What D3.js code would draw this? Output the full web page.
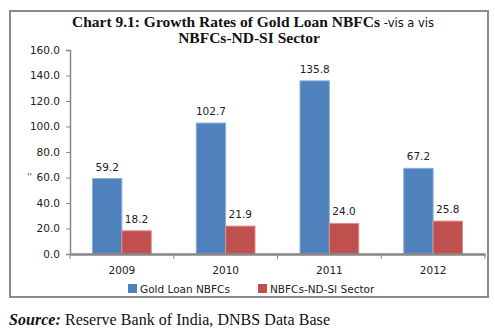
<!DOCTYPE html>
<html>
<head>
<meta charset="utf-8">
<script src="https://cdn.jsdelivr.net/npm/d3@7"></script>
<style>
  body { margin: 0; background: #fff; }
  svg { display: block; }
</style>
</head>
<body>
<svg id="chart" width="495" height="335"></svg>
<script>
const years = ["2009", "2010", "2011", "2012"];
const seriesNames = ["Gold Loan NBFCs", "NBFCs-ND-SI Sector"];
const goldLoan = [59.2, 102.7, 135.8, 67.2];
const ndsi = [18.2, 21.9, 24.0, 25.8];
const yTicks = [0, 20, 40, 60, 80, 100, 120, 140, 160];

const COLORS = ["#4F81BD", "#C0504D"];
const EDGES = ["#8db0dc", "#e08c8a"];
const AXIS = "#868686";
const SANS = "'DejaVu Sans', Verdana, sans-serif";
const SERIF = "'Liberation Serif', 'Times New Roman', serif";

const svg = d3.select("#chart");

// outer frame
svg.append("rect")
  .attr("x", 10).attr("y", 11)
  .attr("width", 478).attr("height", 286)
  .attr("fill", "none")
  .attr("stroke", "#8a8a8a")
  .attr("stroke-width", 2);

// title, two lines
const title1 = svg.append("text")
  .attr("x", 253).attr("y", 27)
  .attr("text-anchor", "middle")
  .attr("font-family", SERIF)
  .attr("font-weight", "bold")
  .attr("font-size", 15.5)
  .attr("fill", "#111")
  .text("Chart 9.1: Growth Rates of Gold Loan NBFCs ");
title1.append("tspan").attr("font-family", SANS).attr("font-weight", "normal")
  .attr("font-size", 11.5).text("-vis a vis");
svg.append("text")
  .attr("x", 249).attr("y", 43)
  .attr("text-anchor", "middle")
  .attr("font-family", SERIF)
  .attr("font-weight", "bold")
  .attr("font-size", 15.5)
  .attr("fill", "#111")
  .text("NBFCs-ND-SI Sector");

const plot = { left: 70, right: 485, top: 50, bottom: 254 };

const x0 = d3.scaleBand().domain(years).range([plot.left, plot.right]).paddingInner(0).paddingOuter(0);
const x1 = d3.scaleBand().domain([0, 1]).range([22.5, x0.bandwidth() - 22.5]).padding(0);
const y = d3.scaleLinear().domain([0, 160]).range([plot.bottom, plot.top]);

// y axis
const yAxis = svg.append("g")
  .attr("transform", `translate(${plot.left},0)`)
  .call(d3.axisLeft(y).tickValues(yTicks).tickFormat(d3.format(".1f")).tickSize(4).tickPadding(6));
yAxis.select(".domain").attr("stroke", AXIS).attr("stroke-width", 1.5);
yAxis.selectAll(".tick line").attr("stroke", AXIS);
yAxis.selectAll("text").attr("font-family", SANS).attr("font-size", 10.5).attr("fill", "#222");

// stray mark beside the axis
svg.append("text").attr("x", 27).attr("y", 180)
  .attr("font-family", SANS).attr("font-size", 9).attr("fill", "#444").text("''");

// bars
const groups = svg.append("g").selectAll("g")
  .data(years)
  .join("g")
  .attr("transform", d => `translate(${x0(d)},0)`);

const rows = (d, i) => [goldLoan[i], ndsi[i]].map((v, s) => ({ v, s }));

groups.selectAll("rect")
  .data(rows)
  .join("rect")
  .attr("x", d => x1(d.s))
  .attr("y", d => y(d.v))
  .attr("width", x1.bandwidth())
  .attr("height", d => y(0) - y(d.v))
  .attr("fill", d => COLORS[d.s])
  .attr("stroke", d => EDGES[d.s])
  .attr("stroke-width", 1);

groups.selectAll("text")
  .data(rows)
  .join("text")
  .attr("x", d => x1(d.s) + x1.bandwidth() / 2)
  .attr("y", d => y(d.v) - 8)
  .attr("text-anchor", "middle")
  .attr("font-family", SANS)
  .attr("font-size", 10.5)
  .attr("fill", "#222")
  .text(d => d.v.toFixed(1));

// x axis
const xAxis = svg.append("g")
  .attr("transform", `translate(0,${plot.bottom})`)
  .call(d3.axisBottom(x0).tickSize(0).tickPadding(13));
xAxis.select(".domain").attr("stroke", AXIS).attr("stroke-width", 2.5);
xAxis.selectAll("text").attr("font-family", SANS).attr("font-size", 10.5).attr("fill", "#222");
xAxis.selectAll(".sep")
  .data(years.map(d => x0(d)).concat([plot.right]))
  .join("line")
  .attr("class", "sep")
  .attr("x1", d => d).attr("x2", d => d)
  .attr("y1", 0).attr("y2", 5)
  .attr("stroke", AXIS);

// legend
const legendX = [128, 258];
const legend = svg.append("g").selectAll("g")
  .data(seriesNames)
  .join("g")
  .attr("transform", (d, i) => `translate(${legendX[i]},284)`);
legend.append("rect")
  .attr("width", 9).attr("height", 9)
  .attr("fill", (d, i) => COLORS[i]);
legend.append("text")
  .attr("x", 12).attr("y", 9)
  .attr("font-family", SANS)
  .attr("font-size", 10.5)
  .attr("fill", "#222")
  .text(d => d);

// source note
const src = svg.append("text")
  .attr("x", 9).attr("y", 325)
  .attr("font-family", SERIF)
  .attr("font-size", 16)
  .attr("fill", "#111")
  .attr("textLength", 321)
  .attr("lengthAdjust", "spacing");
src.append("tspan").attr("font-weight", "bold").attr("font-style", "italic").text("Source:");
src.append("tspan").text(" Reserve Bank of India, DNBS Data Base");
</script>
</body>
</html>
